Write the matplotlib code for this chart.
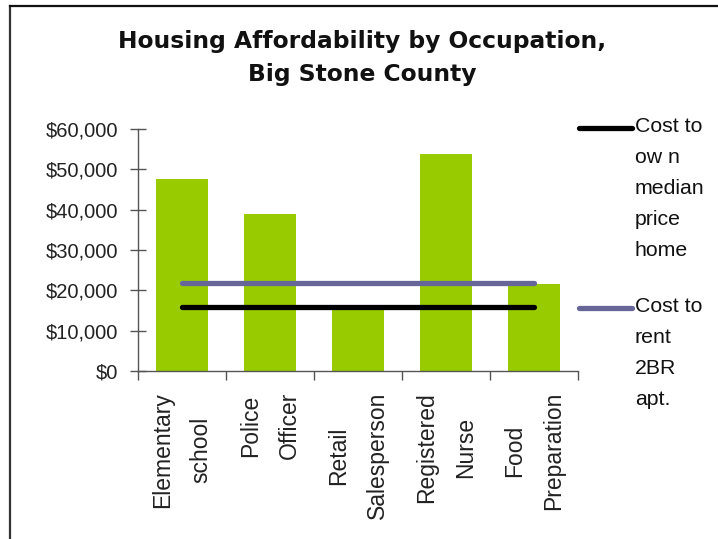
import matplotlib
matplotlib.use("Agg")
import matplotlib.pyplot as plt
from matplotlib.lines import Line2D
from matplotlib.ticker import FuncFormatter, FixedLocator

categories = ["Elementary\nschool", "Police\nOfficer", "Retail\nSalesperson",
              "Registered\nNurse", "Food\nPreparation"]
wages = [47600, 38900, 15400, 53800, 21600]
cost_own = 15900
cost_rent = 21900
legend_labels = ["Cost to\now n\nmedian\nprice\nhome", "Cost to\nrent\n2BR\napt."]
yticks = [0, 10000, 20000, 30000, 40000, 50000, 60000]

W, H = 718, 539
fig = plt.figure(figsize=(W / 100, H / 100), dpi=100)
fig.patch.set_facecolor("white")

ax = fig.add_axes([138 / W, 1 - 371 / H, 440 / W, 242 / H])
x = list(range(len(categories)))
ax.bar(x, wages, width=0.58, color="#99CC00", zorder=2)
ax.plot([x[0], x[-1]], [cost_rent, cost_rent], color="#666699", lw=3.8,
        solid_capstyle="round", zorder=3)
ax.plot([x[0], x[-1]], [cost_own, cost_own], color="black", lw=3.8,
        solid_capstyle="round", zorder=3)

ax.set_xlim(-0.5, len(categories) - 0.5)
ax.set_ylim(0, 60000)
for s in ["top", "right"]:
    ax.spines[s].set_visible(False)
for s in ["left", "bottom"]:
    ax.spines[s].set_color("#555555")
    ax.spines[s].set_linewidth(1.0)

ax.set_yticks(yticks)
ax.yaxis.set_major_formatter(FuncFormatter(lambda v, p: "${:,.0f}".format(v)))
ax.tick_params(axis="y", direction="inout", length=12, width=1, color="#555555",
               pad=8.5, labelsize=14.5, labelcolor="#222222")
for lab in ax.get_yticklabels():
    lab.set_family("Liberation Sans")

ax.set_xticks(x)
ax.set_xticklabels(categories, rotation=90, va="top", ha="center",
                   family="Liberation Sans", fontsize=16.5, linespacing=1.85,
                   color="#222222")
ax.tick_params(axis="x", which="major", length=0, pad=15)
ax.xaxis.set_minor_locator(FixedLocator([i - 0.5 for i in range(len(categories) + 1)]))
ax.tick_params(axis="x", which="minor", direction="out", length=6.5, width=1,
               color="#555555")

fig.text(362 / W, 1 - 58 / H, "Housing Affordability by Occupation,\nBig Stone County",
         ha="center", va="center", fontsize=16.8, fontweight="bold",
         family="DejaVu Sans", linespacing=1.6, color="#111111")

# legend
leg_colors = ["black", "#666699"]
leg_y = [128, 308]
for lab, col, yy in zip(legend_labels, leg_colors, leg_y):
    fy = 1 - yy / H
    fig.add_artist(Line2D([579 / W, 632 / W], [fy, fy], color=col, lw=3.8,
                          solid_capstyle="round", transform=fig.transFigure))
    fig.text(635 / W, 1 - (yy - 11) / H, lab, ha="left", va="top",
             family="Liberation Sans", fontsize=15.3, linespacing=1.8,
             color="#111111")

# outer frame
fig.add_artist(Line2D([9.5 / W, 9.5 / W], [0, 1 - 5.5 / H], color="#333333",
                      lw=1.6, transform=fig.transFigure))
fig.add_artist(Line2D([9.5 / W, 1], [1 - 5.5 / H, 1 - 5.5 / H], color="#111111",
                      lw=1.6, transform=fig.transFigure))

fig.savefig("out.png", dpi=100)
